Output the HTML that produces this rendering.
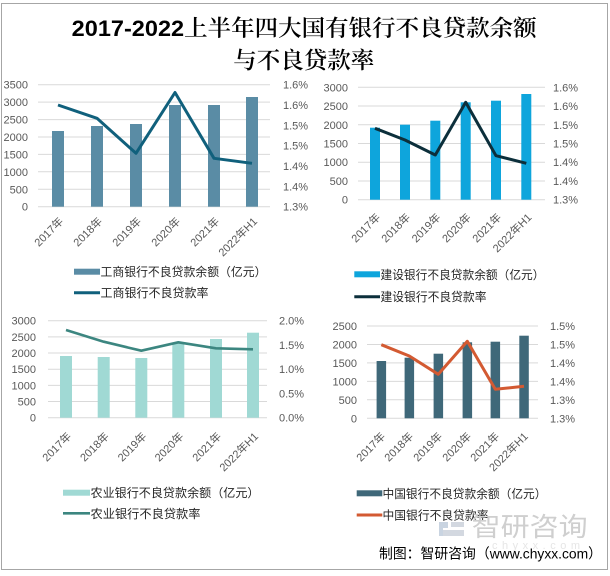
<!DOCTYPE html>
<html><head><meta charset="utf-8"><style>
html,body{margin:0;padding:0;background:#fff;}
svg{display:block;}
text{font-family:"Liberation Sans","Noto Sans CJK SC",sans-serif;}
.ax{font-size:11px;fill:#595959;}
.lg{font-size:12px;fill:#262626;}
.g{stroke:#d9d9d9;stroke-width:1;}
</style></head><body>
<svg width="610" height="576" viewBox="0 0 610 576" xmlns="http://www.w3.org/2000/svg">
<rect x="0" y="0" width="610" height="576" fill="#fff"/>
<rect x="1.5" y="3.5" width="606" height="566" fill="none" stroke="#a6a6a6" stroke-width="1"/>

<!-- Title -->
<text x="71.7" y="36" font-size="22.5" textLength="465" lengthAdjust="spacingAndGlyphs" fill="#000"><tspan font-weight="bold" font-family="Liberation Sans, sans-serif">2017-2022</tspan><tspan font-family="Noto Serif CJK SC, serif" font-weight="600">上半年四大国有银行不良贷款余额</tspan></text>
<text x="233.3" y="68" font-size="23" textLength="141" lengthAdjust="spacingAndGlyphs" fill="#000" font-family="Noto Serif CJK SC, serif" font-weight="600" style="font-family:'Noto Serif CJK SC',serif">与不良贷款率</text>

<!-- ============ Chart 1 (ICBC) ============ -->
<g>
<line class="g" x1="38" x2="270" y1="84.7" y2="84.7"/>
<line class="g" x1="38" x2="270" y1="102.1" y2="102.1"/>
<line class="g" x1="38" x2="270" y1="119.6" y2="119.6"/>
<line class="g" x1="38" x2="270" y1="137.0" y2="137.0"/>
<line class="g" x1="38" x2="270" y1="154.4" y2="154.4"/>
<line class="g" x1="38" x2="270" y1="171.8" y2="171.8"/>
<line class="g" x1="38" x2="270" y1="189.3" y2="189.3"/>
<line class="g" x1="38" x2="270" y1="206.7" y2="206.7"/>
<g class="ax" text-anchor="end">
<text x="28" y="88.7">3500</text><text x="28" y="106.1">3000</text><text x="28" y="123.6">2500</text><text x="28" y="141">2000</text><text x="28" y="158.4">1500</text><text x="28" y="175.8">1000</text><text x="28" y="193.3">500</text><text x="28" y="210.7">0</text>
</g>
<g class="ax">
<text x="283" y="88.7">1.6%</text><text x="283" y="109">1.6%</text><text x="283" y="129.3">1.5%</text><text x="283" y="149.7">1.5%</text><text x="283" y="170">1.4%</text><text x="283" y="190.3">1.4%</text><text x="283" y="210.7">1.3%</text>
</g>
<g fill="#5a8ca5">
<rect x="52" y="131" width="12" height="75.7"/>
<rect x="91" y="126" width="12" height="80.7"/>
<rect x="130" y="124" width="12" height="82.7"/>
<rect x="169" y="105" width="12" height="101.7"/>
<rect x="208" y="105" width="12" height="101.7"/>
<rect x="246" y="97" width="12" height="109.7"/>
</g>
<polyline points="58,105 97,118.3 136,153.3 175,92.5 214,158.3 252,163.3" fill="none" stroke="#10607c" stroke-width="3" stroke-linejoin="round"/>
<g class="ax" text-anchor="end">
<text transform="translate(64,222) rotate(-45)">2017年</text>
<text transform="translate(103,222) rotate(-45)">2018年</text>
<text transform="translate(142,222) rotate(-45)">2019年</text>
<text transform="translate(181,222) rotate(-45)">2020年</text>
<text transform="translate(220,222) rotate(-45)">2021年</text>
<text transform="translate(258,222) rotate(-45)">2022年H1</text>
</g>
<rect x="74" y="268.7" width="26" height="6" fill="#5a8ca5"/>
<text class="lg" x="100.5" y="276" textLength="166" lengthAdjust="spacingAndGlyphs">工商银行不良贷款余额（亿元）</text>
<line x1="74" x2="100" y1="292.7" y2="292.7" stroke="#10607c" stroke-width="3"/>
<text class="lg" x="100.5" y="297" textLength="108" lengthAdjust="spacingAndGlyphs">工商银行不良贷款率</text>
</g>

<!-- ============ Chart 2 (CCB) ============ -->
<g>
<line class="g" x1="358" x2="545" y1="87.3" y2="87.3"/>
<line class="g" x1="358" x2="545" y1="106.0" y2="106.0"/>
<line class="g" x1="358" x2="545" y1="124.8" y2="124.8"/>
<line class="g" x1="358" x2="545" y1="143.5" y2="143.5"/>
<line class="g" x1="358" x2="545" y1="162.2" y2="162.2"/>
<line class="g" x1="358" x2="545" y1="181.0" y2="181.0"/>
<line class="g" x1="358" x2="545" y1="199.7" y2="199.7"/>
<g class="ax" text-anchor="end">
<text x="348" y="91.3">3000</text><text x="348" y="110">2500</text><text x="348" y="128.8">2000</text><text x="348" y="147.5">1500</text><text x="348" y="166.2">1000</text><text x="348" y="185">500</text><text x="348" y="203.7">0</text>
</g>
<g class="ax">
<text x="553" y="91.3">1.6%</text><text x="553" y="110">1.6%</text><text x="553" y="128.8">1.5%</text><text x="553" y="147.5">1.5%</text><text x="553" y="166.2">1.4%</text><text x="553" y="185">1.4%</text><text x="553" y="203.7">1.3%</text>
</g>
<g fill="#0ea5dc">
<rect x="370" y="127.7" width="10" height="72"/>
<rect x="400" y="124.7" width="10" height="75"/>
<rect x="430.3" y="120.7" width="10" height="79"/>
<rect x="460.7" y="102.3" width="10" height="97.4"/>
<rect x="491" y="100.7" width="10" height="99"/>
<rect x="521.3" y="94" width="10" height="105.7"/>
</g>
<polyline points="375,128.3 405,140 435.3,155 465.7,102.3 496,155.7 526.3,163.3" fill="none" stroke="#0c2f3b" stroke-width="3" stroke-linejoin="round"/>
<g class="ax" text-anchor="end">
<text transform="translate(381,218) rotate(-45)">2017年</text>
<text transform="translate(411,218) rotate(-45)">2018年</text>
<text transform="translate(441.3,218) rotate(-45)">2019年</text>
<text transform="translate(471.7,218) rotate(-45)">2020年</text>
<text transform="translate(502,218) rotate(-45)">2021年</text>
<text transform="translate(532.3,218) rotate(-45)">2022年H1</text>
</g>
<rect x="354.3" y="271.3" width="25.7" height="6" fill="#0ea5dc"/>
<text class="lg" x="380.5" y="279" textLength="164" lengthAdjust="spacingAndGlyphs">建设银行不良贷款余额（亿元）</text>
<line x1="354.3" x2="380" y1="296.7" y2="296.7" stroke="#0c2f3b" stroke-width="3"/>
<text class="lg" x="380.5" y="301" textLength="106" lengthAdjust="spacingAndGlyphs">建设银行不良贷款率</text>
</g>

<!-- ============ Chart 3 (ABC) ============ -->
<g>
<line class="g" x1="48" x2="267" y1="320.7" y2="320.7"/>
<line class="g" x1="48" x2="267" y1="336.9" y2="336.9"/>
<line class="g" x1="48" x2="267" y1="353.0" y2="353.0"/>
<line class="g" x1="48" x2="267" y1="369.2" y2="369.2"/>
<line class="g" x1="48" x2="267" y1="385.4" y2="385.4"/>
<line class="g" x1="48" x2="267" y1="401.5" y2="401.5"/>
<line class="g" x1="48" x2="267" y1="417.7" y2="417.7"/>
<g class="ax" text-anchor="end">
<text x="36" y="324.7">3000</text><text x="36" y="340.9">2500</text><text x="36" y="357">2000</text><text x="36" y="373.2">1500</text><text x="36" y="389.4">1000</text><text x="36" y="405.5">500</text><text x="36" y="421.7">0</text>
</g>
<g class="ax">
<text x="279" y="324.7">2.0%</text><text x="279" y="348.9">1.5%</text><text x="279" y="373.2">1.0%</text><text x="279" y="397.4">0.5%</text><text x="279" y="421.7">0.0%</text>
</g>
<g fill="#a0d9d4">
<rect x="60" y="356" width="12" height="61.7"/>
<rect x="97.7" y="357" width="12" height="60.7"/>
<rect x="135.3" y="358" width="12" height="59.7"/>
<rect x="172.3" y="343.3" width="12" height="74.4"/>
<rect x="210" y="339" width="12" height="78.7"/>
<rect x="247" y="332.7" width="12" height="85"/>
</g>
<polyline points="66,330 103.7,341.7 141.3,350.7 178.3,342.3 216,348.3 253,349.3" fill="none" stroke="#3c8680" stroke-width="2.6" stroke-linejoin="round"/>
<g class="ax" text-anchor="end">
<text transform="translate(72,437) rotate(-45)">2017年</text>
<text transform="translate(109.7,437) rotate(-45)">2018年</text>
<text transform="translate(147.3,437) rotate(-45)">2019年</text>
<text transform="translate(184.3,437) rotate(-45)">2020年</text>
<text transform="translate(222,437) rotate(-45)">2021年</text>
<text transform="translate(259,437) rotate(-45)">2022年H1</text>
</g>
<rect x="63" y="489.7" width="27" height="6" fill="#a0d9d4"/>
<text class="lg" x="90.5" y="497" textLength="169" lengthAdjust="spacingAndGlyphs">农业银行不良贷款余额（亿元）</text>
<line x1="63" x2="90" y1="513.3" y2="513.3" stroke="#3c8680" stroke-width="2.6"/>
<text class="lg" x="90.5" y="518" textLength="110" lengthAdjust="spacingAndGlyphs">农业银行不良贷款率</text>
</g>

<!-- ============ Chart 4 (BOC) ============ -->
<g>
<line class="g" x1="367" x2="538" y1="326" y2="326"/>
<line class="g" x1="367" x2="538" y1="344.5" y2="344.5"/>
<line class="g" x1="367" x2="538" y1="362.9" y2="362.9"/>
<line class="g" x1="367" x2="538" y1="381.4" y2="381.4"/>
<line class="g" x1="367" x2="538" y1="399.8" y2="399.8"/>
<line class="g" x1="367" x2="538" y1="418.3" y2="418.3"/>
<g class="ax" text-anchor="end">
<text x="357" y="330">2500</text><text x="357" y="348.5">2000</text><text x="357" y="366.9">1500</text><text x="357" y="385.4">1000</text><text x="357" y="403.8">500</text><text x="357" y="422.3">0</text>
</g>
<g class="ax">
<text x="550" y="330">1.5%</text><text x="550" y="348.5">1.5%</text><text x="550" y="366.9">1.4%</text><text x="550" y="385.4">1.4%</text><text x="550" y="403.8">1.3%</text><text x="550" y="422.3">1.3%</text>
</g>
<g fill="#3f6879">
<rect x="376.6" y="361" width="9.5" height="57.3"/>
<rect x="404.6" y="357.7" width="9.5" height="60.6"/>
<rect x="433.6" y="353.7" width="9.5" height="64.6"/>
<rect x="462.6" y="342.3" width="9.5" height="76"/>
<rect x="490.6" y="341.7" width="9.5" height="76.6"/>
<rect x="519.3" y="335.7" width="9.5" height="82.6"/>
</g>
<polyline points="381.3,344.7 409.3,356 438.3,374.3 467.3,341.3 495.3,389.3 524,386.3" fill="none" stroke="#d35a32" stroke-width="3" stroke-linejoin="round"/>
<g class="ax" text-anchor="end">
<text transform="translate(386,437) rotate(-45)">2017年</text>
<text transform="translate(414,437) rotate(-45)">2018年</text>
<text transform="translate(443,437) rotate(-45)">2019年</text>
<text transform="translate(472,437) rotate(-45)">2020年</text>
<text transform="translate(500,437) rotate(-45)">2021年</text>
<text transform="translate(528.7,437) rotate(-45)">2022年H1</text>
</g>
<rect x="356.7" y="490.3" width="25.6" height="6" fill="#3f6879"/>
<text class="lg" x="382.5" y="498" textLength="164" lengthAdjust="spacingAndGlyphs">中国银行不良贷款余额（亿元）</text>
<line x1="356.7" x2="382.3" y1="515" y2="515" stroke="#d35a32" stroke-width="3"/>
<text class="lg" x="382.5" y="519.5" textLength="106" lengthAdjust="spacingAndGlyphs">中国银行不良贷款率</text>
</g>

<!-- Watermark -->
<g opacity="0.75">
<rect x="439" y="522" width="9" height="6" fill="#b7c6d8"/>
<rect x="451" y="522" width="13" height="5" fill="#c5ccd6"/>
<rect x="439" y="530" width="25" height="6" fill="#c5ccd6"/>
<rect x="439" y="522" width="4" height="14" fill="#b7c6d8"/>
</g>
<text x="471.7" y="536" font-size="26" fill="#cfcfcf" textLength="116" lengthAdjust="spacingAndGlyphs">智研咨询</text>
<text x="492" y="549" font-size="11" fill="#e6e6e6" textLength="88" lengthAdjust="spacing">chyxx.com</text>

<!-- Source -->
<text x="379" y="558.5" font-size="14" fill="#000" textLength="223" lengthAdjust="spacingAndGlyphs">制图：智研咨询（www.chyxx.com）</text>
</svg>
</body></html>
